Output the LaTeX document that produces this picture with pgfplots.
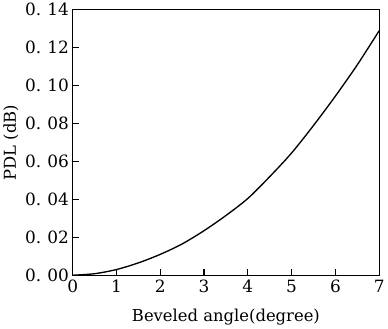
\documentclass[border=0pt]{standalone}
\usepackage{fontspec}
\setmainfont{DejaVu Serif}
\usepackage{pgfplots}
\pgfplotsset{compat=1.18}
\newcommand{\dt}{.\hspace{6bp}}
\begin{document}
\begin{tikzpicture}
\begin{axis}[
  scale only axis,
  width=298bp, height=258bp,
  xmin=0, xmax=7, ymin=0, ymax=0.14,
  xtick={0,1,2,3,4,5,6,7},
  ytick={0,0.02,0.04,0.06,0.08,0.10,0.12,0.14},
  yticklabels={0\dt00,0\dt02,0\dt04,0\dt06,0\dt08,0\dt10,0\dt12,0\dt14},
  xtick pos=left, ytick pos=left,
  tickwidth=6bp,
  major tick style={draw=black, line width=1.1pt},
  axis line style={line width=1.2pt},
  ticklabel style={font=\fontsize{16.5}{18}\selectfont},
  /pgf/number format/assume math mode=true,
  xticklabel style={yshift=-1bp},
  xlabel={Beveled angle(degree)},
  ylabel={PDL (dB)},
  label style={font=\fontsize{16}{18}\selectfont},
  xlabel style={at={(axis description cs:0.5,0)}, anchor=north, yshift=-29bp},
  ylabel style={at={(axis description cs:0,0.5)}, anchor=center, rotate=0, yshift=60bp},
]
\addplot[black, line width=1.3pt, smooth] coordinates {
(0,0) (0.5,0.0008) (1,0.0030) (1.5,0.0065) (2,0.0110) (2.5,0.0165) (3,0.0235) (3.5,0.0315) (4,0.0405) (4.5,0.0520) (5,0.0645) (5.5,0.0790) (6,0.0945) (6.5,0.1110) (7,0.1290)
};
\end{axis}
\end{tikzpicture}
\end{document}
